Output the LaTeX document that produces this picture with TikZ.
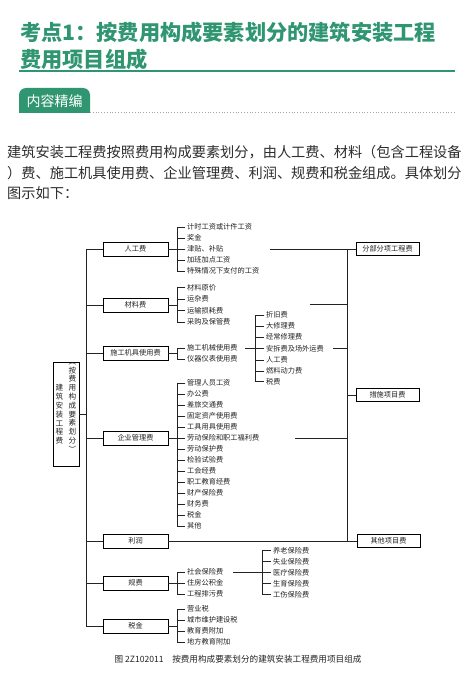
\documentclass[tikz,border=0pt]{standalone}
\usepackage{fontspec}
\setmainfont{Noto Sans CJK SC}
\definecolor{tgreen}{RGB}{48,150,114}
\definecolor{btext}{RGB}{45,45,45}
\definecolor{dline}{RGB}{35,35,35}
\newcommand\diagfont{\fontsize{7.2}{8}\selectfont}
\newcommand\vertfont{\fontsize{7.6}{8.8}\selectfont}
\tikzset{
 ln/.style={draw=dline, line width=0.65pt},
 catbox/.style={draw=black, line width=0.9pt, minimum width=65pt, minimum height=14pt, inner sep=0pt, font=\diagfont, text=dline},
 rbox/.style={draw=black, line width=0.9pt, minimum width=63pt, minimum height=12.5pt, inner sep=0pt, font=\diagfont, text=dline},
 item/.style={anchor=west, inner xsep=2pt, inner ysep=0pt, font=\diagfont, text=dline},
 body/.style={anchor=west, inner sep=0pt, font=\fontsize{14.2}{16}\selectfont, text=btext},
 ttl/.style={anchor=west, inner sep=0pt, font=\fontsize{21.2}{24}\selectfont\bfseries, text=tgreen},
 vtxt/.style={align=center, inner sep=0pt, font=\vertfont, text=dline},
}
\begin{document}
\begin{tikzpicture}[x=1pt,y=-1pt]
\useasboundingbox (0,0) rectangle (474,679);
\fill[white] (0,0) rectangle (474,679);
% ---------- heading ----------
\node[ttl] (t1) at (20,32) {考点1：按费用构成要素划分的建筑安装工程};
\node[ttl] (t2) at (20,59.5) {费用项目组成};
\draw[tgreen, line width=1.8pt] (19,71) -- (455,71);
\fill[tgreen] (19,113) -- (19,95) arc[start angle=180, end angle=270, radius=7] -- (83,88) arc[start angle=270, end angle=360, radius=7] -- (90,113) -- cycle;
\node[inner sep=0pt, text=white, font=\fontsize{14}{16}\selectfont] (tab) at (54.5,101) {内容精编};
\draw[black!35, dotted, line width=0.8pt] (90,112.5) -- (455,112.5);
% ---------- body ----------
\node[body] (p1) at (7,152) {建筑安装工程费按照费用构成要素划分，由人工费、材料（包含工程设备};
\node[body] (p2) at (7,173) {）费、施工机具使用费、企业管理费、利润、规费和税金组成。具体划分};
\node[body] (p3) at (7,193) {图示如下：};
% ---------- main box ----------
\node[draw=black, line width=0.9pt, minimum width=26pt, minimum height=104pt, inner sep=0pt] (main) at (66,414) {};
\node[vtxt] (mainL) at (59.5,414.5) {建\\筑\\安\\装\\工\\程\\费};
\node[vtxt] (mainR) at (72.5,407.5) {︵\\按\\费\\用\\构\\成\\要\\素\\划\\分\\︶};
% ---------- categories ----------
\node[catbox] (c1) at (135.5,249) {人工费};
\node[catbox] (c2) at (135.5,305) {材料费};
\node[catbox] (c3) at (135.5,353) {施工机具使用费};
\node[catbox] (c4) at (135.5,438) {企业管理费};
\node[catbox] (c5) at (135.5,541) {利润};
\node[catbox] (c6) at (135.5,583) {规费};
\node[catbox] (c7) at (135.5,626) {税金};
% ---------- right boxes ----------
\node[rbox] (r1) at (387.5,249) {分部分项工程费};
\node[rbox] (r2) at (387.5,395) {措施项目费};
\node[rbox, minimum height=13pt] (r3) at (388.5,541) {其他项目费};
% ---------- items ----------
\node[item] (a1) at (185,227) {计时工资或计件工资};
\node[item] (a2) at (185,238) {奖金};
\node[item] (a3) at (185,249) {津贴、补贴};
\node[item] (a4) at (185,260) {加班加点工资};
\node[item] (a5) at (185,271) {特殊情况下支付的工资};
\node[item] (b1) at (185,287.5) {材料原价};
\node[item] (b2) at (185,299) {运杂费};
\node[item] (b3) at (185,310.5) {运输损耗费};
\node[item] (b4) at (185,322) {采购及保管费};
\node[item] (m1) at (185,348) {施工机械使用费};
\node[item] (m2) at (185,359) {仪器仪表使用费};
\node[item] (s1) at (264,315) {折旧费};
\node[item] (s2) at (264,326) {大修理费};
\node[item] (s3) at (264,337) {经常修理费};
\node[item] (s4) at (264,348.5) {安拆费及场外运费};
\node[item] (s5) at (264,360) {人工费};
\node[item] (s6) at (264,371) {燃料动力费};
\node[item] (s7) at (264,381.5) {税费};
\node[item] (e1) at (185,383) {管理人员工资};
\node[item] (e2) at (185,394) {办公费};
\node[item] (e3) at (185,405) {差旅交通费};
\node[item] (e4) at (185,416) {固定资产使用费};
\node[item] (e5) at (185,427) {工具用具使用费};
\node[item] (e6) at (185,438) {劳动保险和职工福利费};
\node[item] (e7) at (185,449) {劳动保护费};
\node[item] (e8) at (185,460) {检验试验费};
\node[item] (e9) at (185,471) {工会经费};
\node[item] (e10) at (185,482) {职工教育经费};
\node[item] (e11) at (185,493) {财产保险费};
\node[item] (e12) at (185,504) {财务费};
\node[item] (e13) at (185,515) {税金};
\node[item] (e14) at (185,526) {其他};
\node[item] (g1) at (185,572) {社会保险费};
\node[item] (g2) at (185,583) {住房公积金};
\node[item] (g3) at (185,594) {工程排污费};
\node[item] (h1) at (271,550.5) {养老保险费};
\node[item] (h2) at (271,561.5) {失业保险费};
\node[item] (h3) at (271,572.5) {医疗保险费};
\node[item] (h4) at (271,583.5) {生育保险费};
\node[item] (h5) at (271,594.5) {工伤保险费};
\node[item] (k1) at (185,609) {营业税};
\node[item] (k2) at (185,620) {城市维护建设税};
\node[item] (k3) at (185,631) {教育费附加};
\node[item] (k4) at (185,642) {地方教育附加};
% ---------- caption ----------
\node[inner sep=0pt, font=\fontsize{8.6}{10}\selectfont, text=dline] (cap) at (238,659) {图 2Z102011\quad 按费用构成要素划分的建筑安装工程费用项目组成};
% ---------- coordinates ----------
\coordinate (tk) at (86,0);
\coordinate (bx) at (177,0);
\coordinate (bs) at (255.5,0);
\coordinate (bg) at (262.7,0);
\coordinate (rt) at (347,0);
\coordinate (f1) at (270,249);
\coordinate (f2) at (310,304.5);
\coordinate (f4) at (295,438);
% ---------- left trunk ----------
\draw[ln] (main.east) -- (main.east -| tk);
\draw[ln] (c1.west -| tk) -- (c7.west -| tk);
\foreach \c in {c1,c2,c3,c4,c5,c6,c7} \draw[ln] (\c.west -| tk) -- (\c.west);
% ---------- brackets ----------
\draw[ln] (a1.west) -- (a1.west -| bx) -- (a5.west -| bx) -- (a5.west);
\foreach \n in {a2,a3,a4} \draw[ln] (\n.west) -- (\n.west -| bx);
\draw[ln] (c1.east) -- (c1.east -| bx);
\draw[ln] (b1.west) -- (b1.west -| bx) -- (b4.west -| bx) -- (b4.west);
\foreach \n in {b2,b3} \draw[ln] (\n.west) -- (\n.west -| bx);
\draw[ln] (c2.east) -- (c2.east -| bx);
\draw[ln] (m1.west) -- (m1.west -| bx) -- (m2.west -| bx) -- (m2.west);
\draw[ln] (c3.east) -- (c3.east -| bx);
\draw[ln] (s1.west) -- (s1.west -| bs) -- (s7.west -| bs) -- (s7.west);
\foreach \n in {s2,s3,s4,s5,s6} \draw[ln] (\n.west) -- (\n.west -| bs);
\draw[ln] ([xshift=5pt]m1.east) -- (m1.east -| bs);
\draw[ln] (e1.west) -- (e1.west -| bx) -- (e14.west -| bx) -- (e14.west);
\foreach \n in {e2,e3,e4,e5,e6,e7,e8,e9,e10,e11,e12,e13} \draw[ln] (\n.west) -- (\n.west -| bx);
\draw[ln] (c4.east) -- (c4.east -| bx);
\draw[ln] (g1.west) -- (g1.west -| bx) -- (g3.west -| bx) -- (g3.west);
\draw[ln] (g2.west) -- (g2.west -| bx);
\draw[ln] (c6.east) -- (c6.east -| bx);
\draw[ln] (h1.west) -- (h1.west -| bg) -- (h5.west -| bg) -- (h5.west);
\foreach \n in {h2,h3,h4} \draw[ln] (\n.west) -- (\n.west -| bg);
\draw[ln] ([xshift=8pt]g1.east) -- (g1.east -| bg);
\draw[ln] (k1.west) -- (k1.west -| bx) -- (k4.west -| bx) -- (k4.west);
\foreach \n in {k2,k3} \draw[ln] (\n.west) -- (\n.west -| bx);
\draw[ln] (c7.east) -- (c7.east -| bx);
% ---------- right trunk ----------
\draw[ln] (r1.west -| rt) -- (r3.west -| rt);
\draw[ln] (f1) -- (r1.west);
\draw[ln] (f2) -- (f2 -| rt);
\draw[ln] ([xshift=7pt]s4.east) -- (s4.east -| rt);
\draw[ln] (f4) -- (f4 -| rt);
\draw[ln] (r2.west -| rt) -- (r2.west);
\draw[ln] (c5.east) -- (r3.west);
\end{tikzpicture}
\end{document}
